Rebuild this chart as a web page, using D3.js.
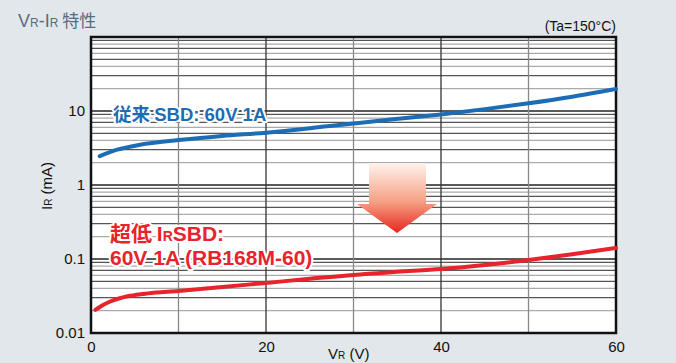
<!DOCTYPE html>
<html>
<head>
<meta charset="utf-8">
<script src="https://cdn.jsdelivr.net/npm/d3@7"></script>
<style>
  body { margin: 0; background: #e2e7eb; }
  svg { display: block; font-family: "Liberation Sans", Arial, "Noto Sans CJK JP", sans-serif; }
  .halo { paint-order: stroke; stroke: #fff; stroke-width: 4px; stroke-linejoin: round; }
</style>
</head>
<body>
<div id="vis"></div>
<script>
// chart data
const X_TICKS = [0, 20, 40, 60];
const X_GRID = [10, 20, 30, 40, 50];
const Y_TICKS = [0.01, 0.1, 1, 10];
const Y_TICK_LABELS = ["0.01", "0.1", "1", "10"];

const SBD_V = [1, 3, 5.6, 10, 15, 20, 27, 34, 40, 45, 50, 55, 60];
const SBD_I = [2.45, 3.0, 3.5, 4.05, 4.6, 5.1, 6.2, 7.6, 9.0, 10.6, 12.7, 15.6, 19.8];

const LOW_V = [0.5, 1, 2, 3, 4.5, 6.5, 10, 15, 20, 25, 30, 35, 40, 45, 50, 55, 60];
const LOW_I = [0.0205, 0.0225, 0.026, 0.0288, 0.0318, 0.0343, 0.037, 0.0418, 0.0475, 0.054, 0.061, 0.067, 0.073, 0.083, 0.097, 0.116, 0.141];

const FRAME_WIDTH = 676;
const FRAME_HEIGHT = 363;
const MARGINS = {left: 91, right: 60, top: 37, bottom: 30};

const FRAME = d3.select("#vis")
  .append("svg")
    .attr("width", FRAME_WIDTH)
    .attr("height", FRAME_HEIGHT);

const X_SCALE = d3.scaleLinear()
  .domain([0, 60])
  .range([MARGINS.left, FRAME_WIDTH - MARGINS.right]);

const Y_SCALE = d3.scaleLog()
  .domain([0.01, 100])
  .range([FRAME_HEIGHT - MARGINS.bottom, MARGINS.top]);

// title + condition
const title = FRAME.append("text")
  .attr("x", 18).attr("y", 27)
  .attr("fill", "#5a6b7b")
  .attr("font-size", 18);
title.append("tspan").text("V");
title.append("tspan").attr("font-size", 12).text("R");
title.append("tspan").text("-I");
title.append("tspan").attr("font-size", 12).text("R");
title.append("tspan").attr("font-family", "Noto Sans CJK JP").attr("font-size", 17).text(" 特性");

FRAME.append("text")
  .attr("x", 616).attr("y", 31)
  .attr("text-anchor", "end")
  .attr("font-size", 14)
  .attr("fill", "#111")
  .text("(Ta=150°C)");

// plot background
FRAME.append("rect")
  .attr("x", X_SCALE(0)).attr("y", Y_SCALE(100))
  .attr("width", X_SCALE(60) - X_SCALE(0))
  .attr("height", Y_SCALE(0.01) - Y_SCALE(100))
  .attr("fill", "#fff");

// horizontal grid: minor lines in every decade
const minor = [];
[0.01, 0.1, 1, 10].forEach((d) => {
  for (let m = 2; m <= 9; m++) minor.push({v: d * m, m: m});
});
FRAME.append("g").selectAll("line")
  .data(minor)
  .enter()
  .append("line")
    .attr("x1", X_SCALE(0)).attr("x2", X_SCALE(60))
    .attr("y1", (d) => Y_SCALE(d.v)).attr("y2", (d) => Y_SCALE(d.v))
    .attr("stroke", (d) => (d.m % 2 === 1 ? "#555" : "#aaa"))
    .attr("stroke-width", 1.2);

FRAME.append("g").selectAll("line")
  .data([0.1, 1, 10])
  .enter()
  .append("line")
    .attr("x1", X_SCALE(0)).attr("x2", X_SCALE(60))
    .attr("y1", (d) => Y_SCALE(d)).attr("y2", (d) => Y_SCALE(d))
    .attr("stroke", "#222")
    .attr("stroke-width", 1.6);

// vertical grid
FRAME.append("g").selectAll("line")
  .data(X_GRID)
  .enter()
  .append("line")
    .attr("x1", (d) => X_SCALE(d)).attr("x2", (d) => X_SCALE(d))
    .attr("y1", Y_SCALE(100)).attr("y2", Y_SCALE(0.01))
    .attr("stroke", (d) => (d % 20 === 0 ? "#333" : "#888"))
    .attr("stroke-width", 1.3);

// axes
const xAxis = FRAME.append("g")
  .attr("transform", "translate(0," + Y_SCALE(0.01) + ")")
  .call(d3.axisBottom(X_SCALE).tickValues(X_TICKS).tickSize(0).tickPadding(8));
xAxis.select(".domain").remove();
xAxis.selectAll("text").attr("font-size", 15).attr("fill", "#111")
  .attr("font-family", "Liberation Sans, Arial, sans-serif");

const yAxis = FRAME.append("g")
  .attr("transform", "translate(" + X_SCALE(0) + ",0)")
  .call(d3.axisLeft(Y_SCALE).tickValues(Y_TICKS)
    .tickFormat((d, i) => Y_TICK_LABELS[i]).tickSize(0).tickPadding(6));
yAxis.select(".domain").remove();
yAxis.selectAll("text").attr("font-size", 15).attr("fill", "#111")
  .attr("font-family", "Liberation Sans, Arial, sans-serif");

// frame
FRAME.append("rect")
  .attr("x", X_SCALE(0)).attr("y", Y_SCALE(100))
  .attr("width", X_SCALE(60) - X_SCALE(0))
  .attr("height", Y_SCALE(0.01) - Y_SCALE(100))
  .attr("fill", "none")
  .attr("stroke", "#111")
  .attr("stroke-width", 2.5);

// axis titles
const xt = FRAME.append("text")
  .attr("x", 328).attr("y", 359)
  .attr("font-size", 15).attr("fill", "#111");
xt.append("tspan").text("V");
xt.append("tspan").attr("font-size", 10).text("R");
xt.append("tspan").text(" (V)");

const yt = FRAME.append("text")
  .attr("transform", "translate(52,186) rotate(-90)")
  .attr("text-anchor", "middle")
  .attr("font-size", 15).attr("fill", "#111");
yt.append("tspan").text("I");
yt.append("tspan").attr("font-size", 10).text("R");
yt.append("tspan").text(" (mA)");

// arrow with gradient
const defs = FRAME.append("defs");
const grad = defs.append("linearGradient")
  .attr("id", "arrowGrad")
  .attr("x1", 0).attr("y1", 0).attr("x2", 0).attr("y2", 1);
grad.append("stop").attr("offset", "0%").attr("stop-color", "#fff3ee");
grad.append("stop").attr("offset", "55%").attr("stop-color", "#f5a184");
grad.append("stop").attr("offset", "100%").attr("stop-color", "#e8261d");

FRAME.append("path")
  .attr("d", "M369,163 L426,163 L426,204 L437,204 L397,233 L357,204 L369,204 Z")
  .attr("fill", "url(#arrowGrad)");

// curves
const line = d3.line()
  .x((d) => X_SCALE(d[0]))
  .y((d) => Y_SCALE(d[1]))
  .curve(d3.curveMonotoneX);

FRAME.append("path")
  .datum(SBD_V.map((v, i) => [v, SBD_I[i]]))
  .attr("d", line)
  .attr("fill", "none")
  .attr("stroke", "#1c6db5")
  .attr("stroke-width", 4)
  .attr("stroke-linecap", "round");

FRAME.append("path")
  .datum(LOW_V.map((v, i) => [v, LOW_I[i]]))
  .attr("d", line)
  .attr("fill", "none")
  .attr("stroke", "#e8232b")
  .attr("stroke-width", 4)
  .attr("stroke-linecap", "round");

// series labels
const blue = FRAME.append("text")
  .attr("class", "halo")
  .attr("x", 113).attr("y", 121)
  .attr("font-size", 18.5).attr("font-weight", "bold")
  .attr("fill", "#1c6db5");
blue.append("tspan").attr("font-family", "Noto Sans CJK JP").text("従来 ");
blue.append("tspan").text("SBD: 60V 1A");

const red1 = FRAME.append("text")
  .attr("class", "halo")
  .attr("x", 110).attr("y", 241)
  .attr("font-size", 21).attr("font-weight", "bold")
  .attr("fill", "#e8232b");
red1.append("tspan").attr("font-family", "Noto Sans CJK JP").text("超低 ");
red1.append("tspan").text("I");
red1.append("tspan").attr("font-size", 14).text("R");
red1.append("tspan").text("SBD:");

FRAME.append("text")
  .attr("class", "halo")
  .attr("x", 110).attr("y", 265)
  .attr("font-size", 21).attr("font-weight", "bold")
  .attr("fill", "#e8232b")
  .text("60V 1A (RB168M-60)");
</script>
</body>
</html>
